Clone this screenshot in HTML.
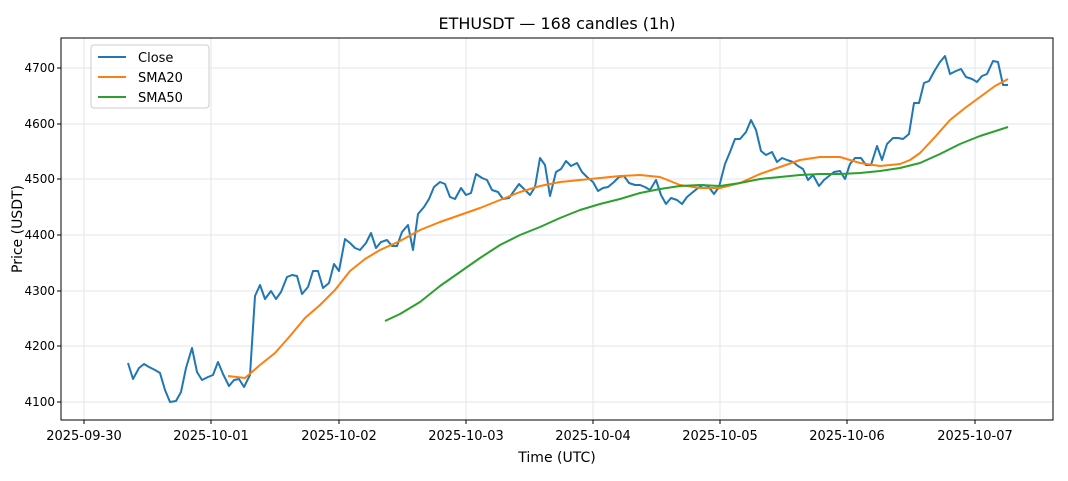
<!DOCTYPE html>
<html><head><meta charset="utf-8"><style>body{margin:0;background:#fff}svg{display:block;font-family:"DejaVu Sans","Liberation Sans",sans-serif}</style></head><body>
<svg width="1068" height="481" viewBox="0 0 1068 481" xmlns="http://www.w3.org/2000/svg">
<rect width="1068" height="481" fill="#fff"/>
<g stroke="#e3e5ea" stroke-width="1">
<line x1="84" y1="38" x2="84" y2="420"/><line x1="211" y1="38" x2="211" y2="420"/><line x1="339" y1="38" x2="339" y2="420"/><line x1="466" y1="38" x2="466" y2="420"/><line x1="593" y1="38" x2="593" y2="420"/><line x1="720" y1="38" x2="720" y2="420"/><line x1="847" y1="38" x2="847" y2="420"/><line x1="975" y1="38" x2="975" y2="420"/>
<line x1="61" y1="68" x2="1053" y2="68"/><line x1="61" y1="124" x2="1053" y2="124"/><line x1="61" y1="179" x2="1053" y2="179"/><line x1="61" y1="235" x2="1053" y2="235"/><line x1="61" y1="291" x2="1053" y2="291"/><line x1="61" y1="346" x2="1053" y2="346"/><line x1="61" y1="402" x2="1053" y2="402"/>
</g>
<polyline fill="none" stroke="#1f77b4" stroke-width="2" stroke-linejoin="round" points="128,363 133,379 139,368 144,364 149,367 155,370 160,373 165,390 170,402 176,401 181,392 186,368 192,348 197,372 202,380 208,377 213,375 218,362 223,374 229,386 234,380 239,379 244,387 250,375 255,296 260,285 265,299 271,291 276,299 281,292 287,277 292,275 297,276 302,294 308,287 313,271 318,271 323,288 329,283 334,264 339,271 345,239 350,243 355,248 360,250 366,243 371,233 376,248 381,242 387,240 392,246 397,246 402,232 408,225 413,250 418,214 424,207 429,199 434,187 440,182 445,184 450,197 455,199 461,188 466,195 471,193 476,174 482,178 487,180 492,190 498,192 503,199 509,198 514,191 519,184 524,189 530,195 535,187 540,158 545,165 550,196 556,172 561,169 566,161 571,166 577,163 582,172 587,177 593,182 598,191 603,188 608,187 614,182 619,177 624,176 629,183 635,185 640,185 645,187 650,190 656,180 661,195 666,204 671,198 677,200 682,204 687,197 693,192 698,188 703,185 708,186 714,194 719,187 725,164 730,152 735,139 740,139 746,132 751,120 756,130 761,151 766,155 772,152 777,162 782,158 787,160 793,162 798,166 803,169 808,180 813,175 819,186 824,180 829,176 834,172 840,171 845,179 850,164 855,158 861,158 866,165 871,165 877,146 882,160 887,144 893,138 898,138 903,139 909,134 914,103 919,103 924,83 929,81 935,70 940,62 945,56 950,74 956,71 961,69 966,77 972,79 977,82 982,76 987,74 993,61 998,62 1003,85 1008,85"/>
<polyline fill="none" stroke="#ff7f0e" stroke-width="2" stroke-linejoin="round" points="228,376 245,378 260,365 275,353 290,336 305,318 320,305 335,290 350,271 365,259 380,250 400,241 420,230 440,222 460,215 480,208 500,200 520,192 540,186 560,182 580,180 600,178 620,176 640,175 660,177 680,185 700,188 720,188 740,183 760,174 780,167 800,160 820,157 840,157 860,163 880,166 900,164 910,160 920,153 935,137 950,120 965,108 980,97 995,86 1008,79"/>
<polyline fill="none" stroke="#2ca02c" stroke-width="2" stroke-linejoin="round" points="385,321 400,314 420,302 440,286 460,272 480,258 500,245 520,235 540,227 560,218 580,210 600,204 620,199 640,193 660,189 680,186 700,185 720,186 740,183 760,179 780,177 800,175 820,174 840,174 860,173 880,171 900,168 920,163 940,154 960,144 980,136 1008,127"/>
<rect x="61" y="38" width="992" height="382" fill="none" stroke="#000" stroke-width="1"/>
<g stroke="#000"><line x1="84" y1="420" x2="84" y2="424"/><line x1="211" y1="420" x2="211" y2="424"/><line x1="339" y1="420" x2="339" y2="424"/><line x1="466" y1="420" x2="466" y2="424"/><line x1="593" y1="420" x2="593" y2="424"/><line x1="720" y1="420" x2="720" y2="424"/><line x1="847" y1="420" x2="847" y2="424"/><line x1="975" y1="420" x2="975" y2="424"/>
<line x1="57" y1="68" x2="61" y2="68"/><line x1="57" y1="124" x2="61" y2="124"/><line x1="57" y1="179" x2="61" y2="179"/><line x1="57" y1="235" x2="61" y2="235"/><line x1="57" y1="291" x2="61" y2="291"/><line x1="57" y1="346" x2="61" y2="346"/><line x1="57" y1="402" x2="61" y2="402"/></g>
<g font-size="13" fill="#000" text-anchor="middle"><text x="84" y="440">2025-09-30</text><text x="211" y="440">2025-10-01</text><text x="339" y="440">2025-10-02</text><text x="466" y="440">2025-10-03</text><text x="593" y="440">2025-10-04</text><text x="720" y="440">2025-10-05</text><text x="847" y="440">2025-10-06</text><text x="975" y="440">2025-10-07</text></g>
<g font-size="12" fill="#000" text-anchor="end"><text x="55" y="72">4700</text><text x="55" y="128">4600</text><text x="55" y="183">4500</text><text x="55" y="239">4400</text><text x="55" y="295">4300</text><text x="55" y="350">4200</text><text x="55" y="406">4100</text></g>
<text x="557" y="462" font-size="14" text-anchor="middle">Time (UTC)</text>
<text x="0" y="0" font-size="14" text-anchor="middle" transform="translate(22 229) rotate(-90)">Price (USDT)</text>
<text x="557" y="29" font-size="16" text-anchor="middle">ETHUSDT — 168 candles (1h)</text>
<rect x="91" y="45" width="118" height="63" rx="3" fill="#fff" fill-opacity="0.8" stroke="#ccc"/>
<line x1="98" y1="57" x2="126" y2="57" stroke="#1f77b4" stroke-width="2"/><line x1="98" y1="77" x2="126" y2="77" stroke="#ff7f0e" stroke-width="2"/><line x1="98" y1="97" x2="126" y2="97" stroke="#2ca02c" stroke-width="2"/>
<g font-size="13"><text x="138" y="62">Close</text><text x="138" y="82">SMA20</text><text x="138" y="102">SMA50</text></g>
</svg>
</body></html>
